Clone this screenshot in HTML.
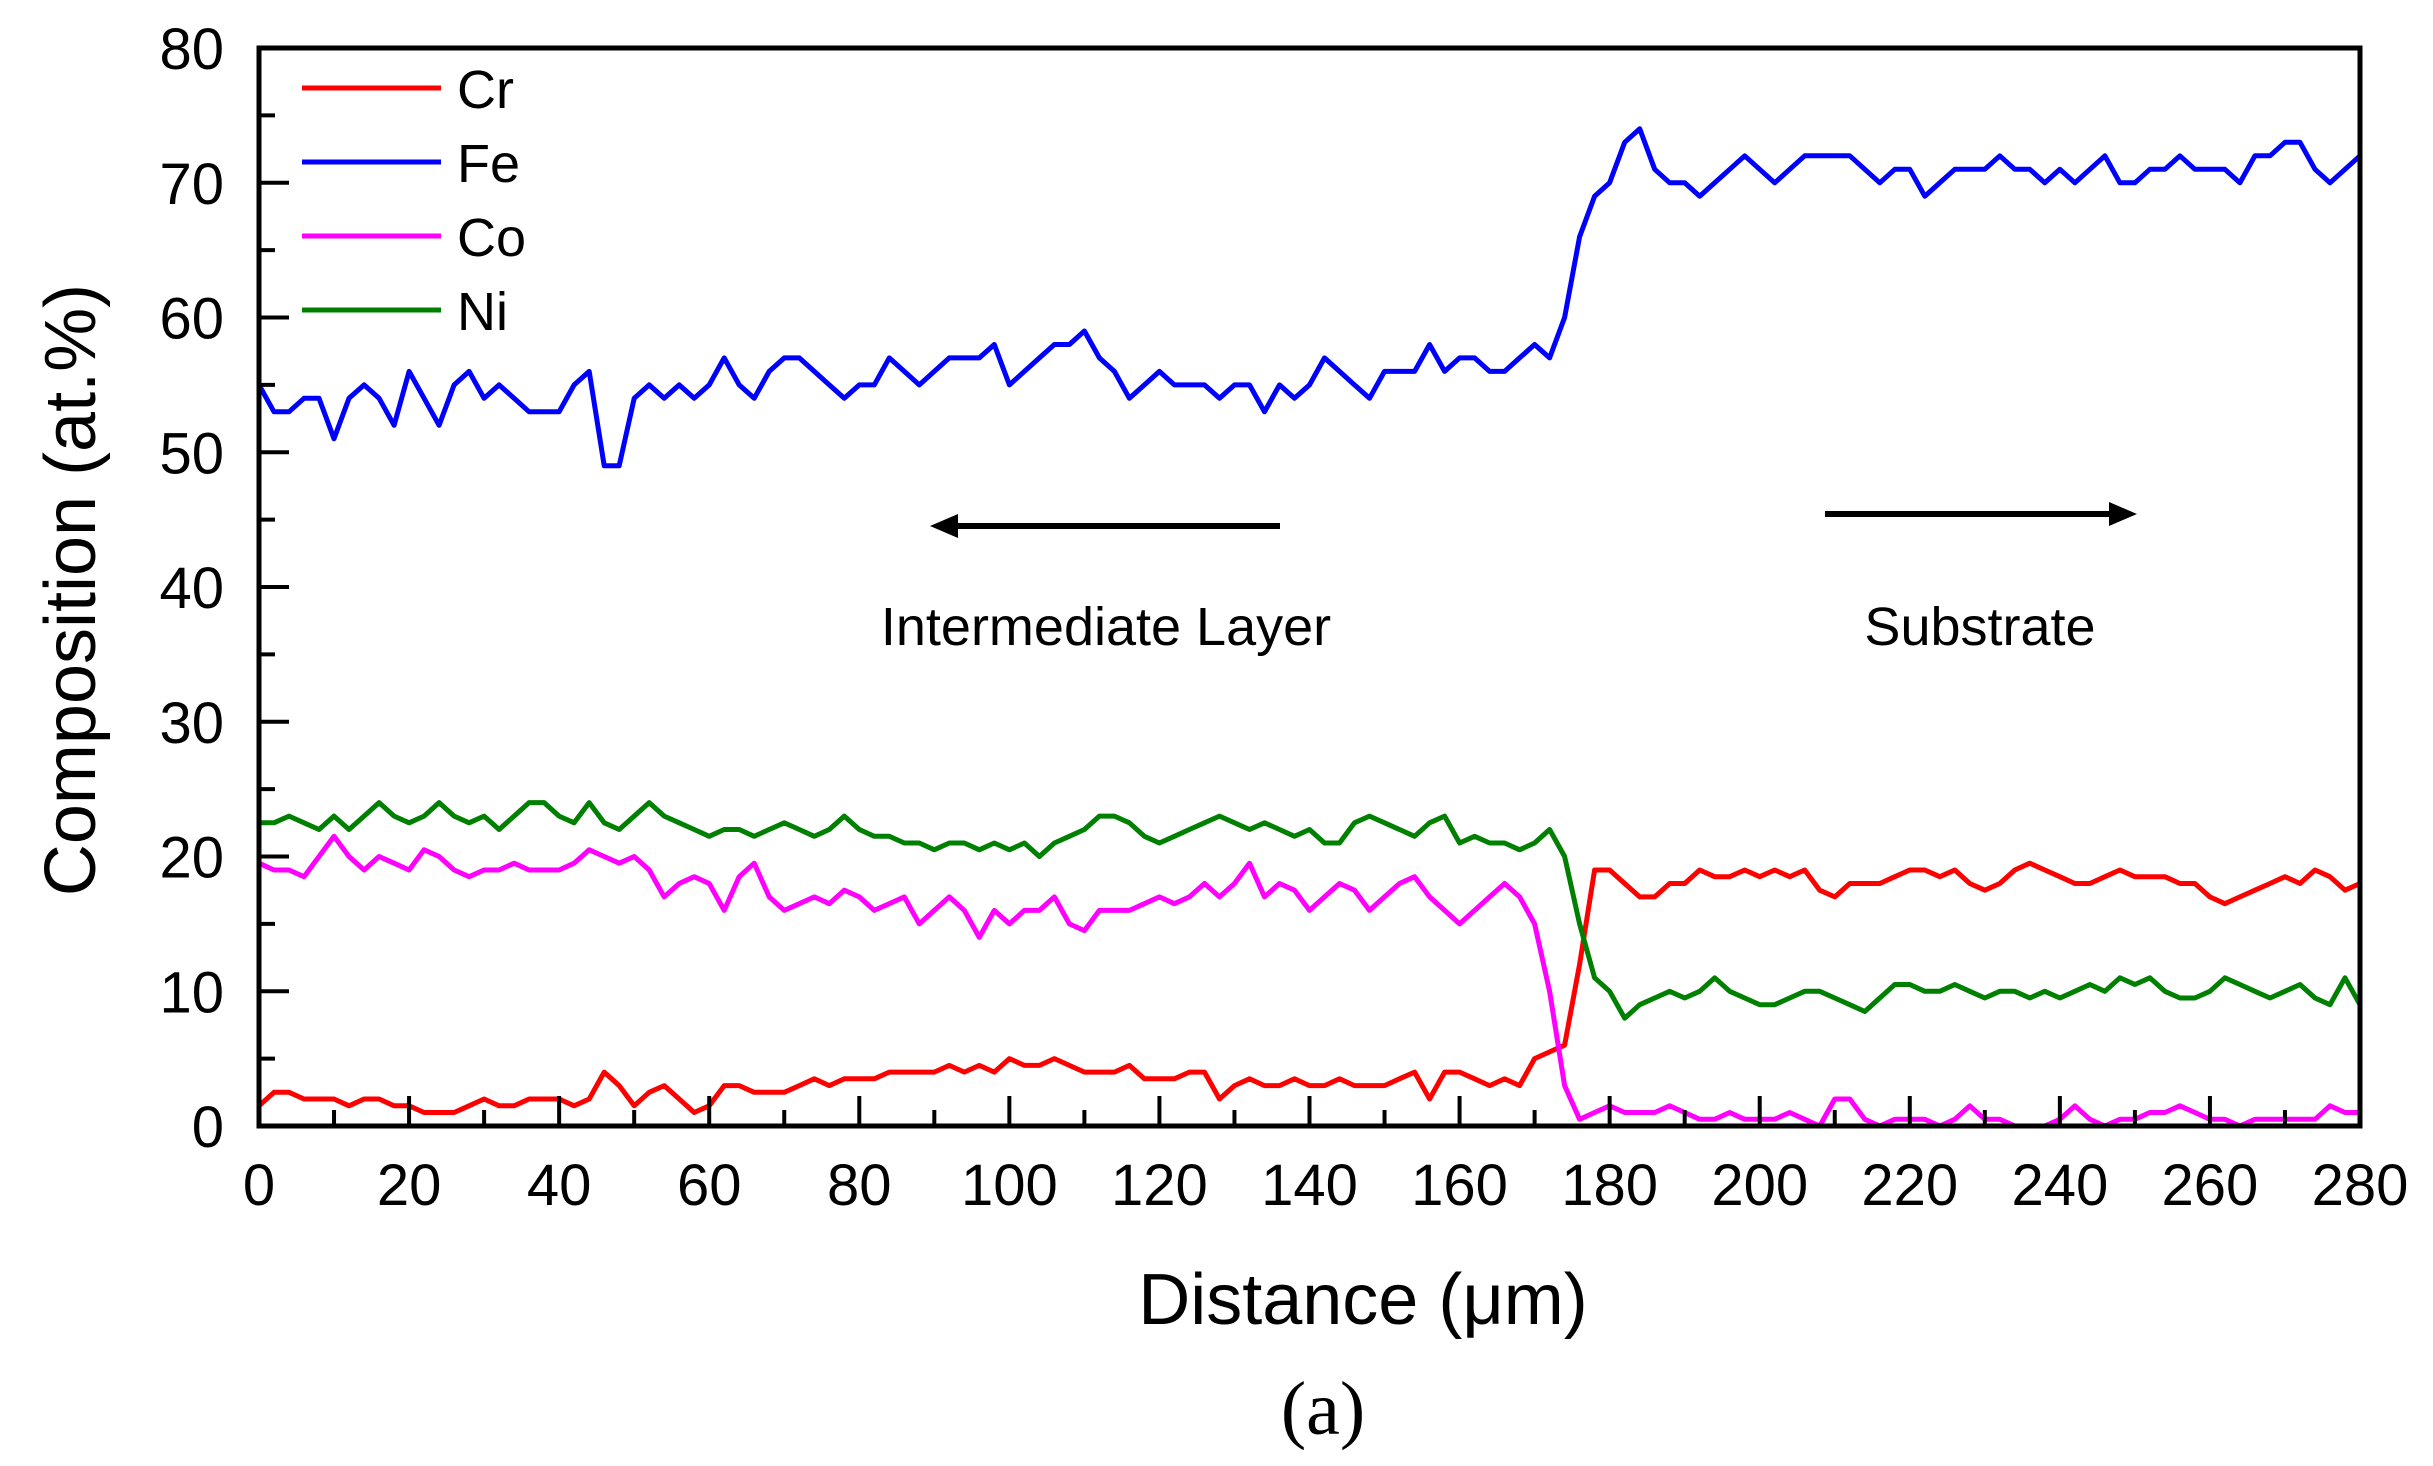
<!DOCTYPE html>
<html><head><meta charset="utf-8"><style>
html,body{margin:0;padding:0;background:#fff;}
svg{display:block;}
text{font-family:"Liberation Sans",Arial,sans-serif;fill:#000;}
</style></head><body>
<svg id="chart" width="2433" height="1466" viewBox="0 0 2433 1466" xmlns="http://www.w3.org/2000/svg">
<g id="series"></g>
<g id="axes"></g>
<g id="legend"></g>
<g>
<line x1="1280" y1="526" x2="950" y2="526" stroke="#000" stroke-width="6"/>
<polygon points="930,526 958,514 958,538" fill="#000"/>
<line x1="1825" y1="514" x2="2115" y2="514" stroke="#000" stroke-width="6"/>
<polygon points="2137,514 2109,502 2109,526" fill="#000"/>
<text x="1106" y="645" font-size="54" text-anchor="middle">Intermediate  Layer</text>
<text x="1980" y="645" font-size="54" text-anchor="middle">Substrate</text>
</g>
<text x="1363" y="1324" font-size="72" text-anchor="middle">Distance (μm)</text>
<text transform="translate(95,590) rotate(-90)" font-size="72" text-anchor="middle">Composition (at.%)</text>
<text x="1323" y="1434" font-size="76" text-anchor="middle" style="font-family:'Liberation Serif',serif">(a)</text>
</svg>
<script>
const xs = [];
for (let i = 0; i <= 140; i++) xs.push(i * 2);
const fe = [55,53,53,54,54,51,54,55,54,52, 56,54,52,55,56,54,55,54,53,53, 53,55,56,49,49,54,55,54,55,54, 55,57,55,54,56,57,57,56,55,54, 55,55,57,56,55,56,57,57,57,58, 55,56,57,58,58,59,57,56,54,55, 56,55,55,55,54,55,55,53,55,54, 55,57,56,55,54,56,56,56,58,56, 57,57,56,56,57,58,57,60,66,69, 70,73,74,71,70,70,69,70,71,72, 71,70,71,72,72,72,72,71,70,71, 71,69,70,71,71,71,72,71,71,70, 71,70,71,72,70,70,71,71,72,71, 71,71,70,72,72,73,73,71,70,71, 72];
const ni = [22.5,22.5,23,22.5,22,23,22,23,24,23, 22.5,23,24,23,22.5,23,22,23,24,24, 23,22.5,24,22.5,22,23,24,23,22.5,22, 21.5,22,22,21.5,22,22.5,22,21.5,22,23, 22,21.5,21.5,21,21,20.5,21,21,20.5,21, 20.5,21,20,21,21.5,22,23,23,22.5,21.5, 21,21.5,22,22.5,23,22.5,22,22.5,22,21.5, 22,21,21,22.5,23,22.5,22,21.5,22.5,23, 21,21.5,21,21,20.5,21,22,20,15,11, 10,8,9,9.5,10,9.5,10,11,10,9.5, 9,9,9.5,10,10,9.5,9,8.5,9.5,10.5, 10.5,10,10,10.5,10,9.5,10,10,9.5,10, 9.5,10,10.5,10,11,10.5,11,10,9.5,9.5, 10,11,10.5,10,9.5,10,10.5,9.5,9,11, 9];
const co = [19.5,19,19,18.5,20,21.5,20,19,20,19.5, 19,20.5,20,19,18.5,19,19,19.5,19,19, 19,19.5,20.5,20,19.5,20,19,17,18,18.5, 18,16,18.5,19.5,17,16,16.5,17,16.5,17.5, 17,16,16.5,17,15,16,17,16,14,16, 15,16,16,17,15,14.5,16,16,16,16.5, 17,16.5,17,18,17,18,19.5,17,18,17.5, 16,17,18,17.5,16,17,18,18.5,17,16, 15,16,17,18,17,15,10,3,0.5,1, 1.5,1,1,1,1.5,1,0.5,0.5,1,0.5, 0.5,0.5,1,0.5,0,2,2,0.5,0,0.5, 0.5,0.5,0,0.5,1.5,0.5,0.5,0,0,0, 0.5,1.5,0.5,0,0.5,0.5,1,1,1.5,1, 0.5,0.5,0,0.5,0.5,0.5,0.5,0.5,1.5,1, 1];
const cr = [1.5,2.5,2.5,2,2,2,1.5,2,2,1.5, 1.5,1,1,1,1.5,2,1.5,1.5,2,2, 2,1.5,2,4,3,1.5,2.5,3,2,1, 1.5,3,3,2.5,2.5,2.5,3,3.5,3,3.5, 3.5,3.5,4,4,4,4,4.5,4,4.5,4, 5,4.5,4.5,5,4.5,4,4,4,4.5,3.5, 3.5,3.5,4,4,2,3,3.5,3,3,3.5, 3,3,3.5,3,3,3,3.5,4,2,4, 4,3.5,3,3.5,3,5,5.5,6,12,19, 19,18,17,17,18,18,19,18.5,18.5,19, 18.5,19,18.5,19,17.5,17,18,18,18,18.5, 19,19,18.5,19,18,17.5,18,19,19.5,19, 18.5,18,18,18.5,19,18.5,18.5,18.5,18,18, 17,16.5,17,17.5,18,18.5,18,19,18.5,17.5, 18];
const xTicks = [0,20,40,60,80,100,120,140,160,180,200,220,240,260,280];
const yTicks = [0,10,20,30,40,50,60,70,80];
const seriesNames = ["Cr","Fe","Co","Ni"];
const seriesColors = ["#ff0000","#0000ff","#ff00ff","#008000"];

const L=259, R=2360, T=48, B=1126;
const sx = v => L + (v-0)/(280-0)*(R-L);
const sy = v => B - (v-0)/(80-0)*(B-T);
const NS="http://www.w3.org/2000/svg";
function mk(tag, parent){const e=document.createElementNS(NS,tag);parent.appendChild(e);return e;}

const sg=document.getElementById('series');
[cr,fe,co,ni].forEach((arr,k)=>{
  const p=mk('path',sg);
  
  
  p.setAttribute('d', arr.map((v,i)=>(i?'L':'M')+sx(xs[i]).toFixed(1)+','+sy(v).toFixed(1)).join(''));
  p.setAttribute('fill','none');
  p.setAttribute('stroke',seriesColors[k]);
  p.setAttribute('stroke-width','5');
  p.setAttribute('stroke-linejoin','round');
});

const ag=document.getElementById('axes');
const frame=mk('rect',ag);


frame.setAttribute('x',L);frame.setAttribute('y',T);frame.setAttribute('width',R-L);frame.setAttribute('height',B-T);
frame.setAttribute('fill','none');frame.setAttribute('stroke','#000');frame.setAttribute('stroke-width','5');

xTicks.forEach((v,i)=>{
  const t=mk('line',ag);
  
  
  t.setAttribute('x1',sx(v));t.setAttribute('x2',sx(v));t.setAttribute('y1',B);t.setAttribute('y2',B-30);
  t.setAttribute('stroke','#000');t.setAttribute('stroke-width','4');
  if(i<xTicks.length-1){
    const m=mk('line',ag);
    
    
    const mv=sx(v+10);
    m.setAttribute('x1',mv);m.setAttribute('x2',mv);m.setAttribute('y1',B);m.setAttribute('y2',B-16);
    m.setAttribute('stroke','#000');m.setAttribute('stroke-width','4');
  }
  const tx=mk('text',ag);
  
  
  tx.setAttribute('x',sx(v));tx.setAttribute('y',1205);tx.setAttribute('font-size','58');tx.setAttribute('text-anchor','middle');
  tx.textContent=v;
});
yTicks.forEach((v,i)=>{
  const t=mk('line',ag);
  
  
  t.setAttribute('x1',L);t.setAttribute('x2',L+30);t.setAttribute('y1',sy(v));t.setAttribute('y2',sy(v));
  t.setAttribute('stroke','#000');t.setAttribute('stroke-width','4');
  if(i<yTicks.length-1){
    const m=mk('line',ag);
    
    
    const mv=sy(v+5);
    m.setAttribute('x1',L);m.setAttribute('x2',L+16);m.setAttribute('y1',mv);m.setAttribute('y2',mv);
    m.setAttribute('stroke','#000');m.setAttribute('stroke-width','4');
  }
  const tx=mk('text',ag);
  
  
  tx.setAttribute('x',224);tx.setAttribute('y',sy(v)+21);tx.setAttribute('font-size','58');tx.setAttribute('text-anchor','end');
  tx.textContent=v;
});

const lg=document.getElementById('legend');
seriesNames.forEach((n,k)=>{
  const y=88+k*74;
  const l=mk('line',lg);
  
  
  l.setAttribute('x1',302);l.setAttribute('x2',441);l.setAttribute('y1',y);l.setAttribute('y2',y);
  l.setAttribute('stroke',seriesColors[k]);l.setAttribute('stroke-width','5');
  const t=mk('text',lg);
  
  
  t.setAttribute('x',457);t.setAttribute('y',y+20);t.setAttribute('font-size','54');
  t.textContent=n;
});
</script>
</body></html>
